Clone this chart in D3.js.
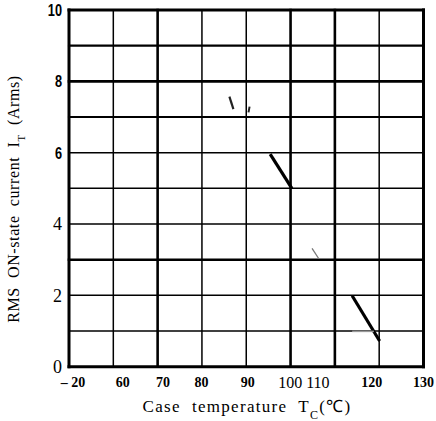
<!DOCTYPE html>
<html><head><meta charset="utf-8">
<script src="https://cdn.jsdelivr.net/npm/d3@7"></script>
<style>body{margin:0;background:#fff} svg{display:block}</style>
</head><body>
<svg id="chart" width="436" height="421"></svg>
<script>
// Case temperature axis: gridline values and the printed labels with their positions (°C)
const xGrid = [50, 60, 70, 80, 90, 100, 110, 120, 130];
const xLabelText = ["\u2013 20", "60", "70", "80", "90", "100 110", "120", "130"];
const xLabelAt = [50.8, 62.0, 71.1, 79.8, 90.2, 102.9, 118.2, 129.9];

// RMS on-state current axis (A)
const yGrid = [0, 1, 2, 3, 4, 5, 6, 7, 8, 9, 10];
const yLabelValues = [0, 2, 4, 6, 8, 10];

// Derating curve fragments, [Tc (°C), IT (Arms)]
const traceA = [[86.2, 7.57], [87.1, 7.22]];
const traceB = [[90.75, 7.29], [90.5, 7.13]];
const traceC = [[95.4, 5.96], [100.3, 5.0]];
const traceD = [[104.85, 3.32], [106.3, 3.04]];
const traceE = [[113.9, 1.99], [120.1, 0.72]];
const traceF = [[113.9, 0.99], [118.8, 0.99]];

const serif = "'Liberation Serif', 'Times New Roman', Times, serif";
const sans = "'Liberation Sans', Arial, sans-serif";

const svg = d3.select("#chart");
const x = d3.scaleLinear().domain([50, 130]).range([69, 423.5]);
const y = d3.scaleLinear().domain([0, 10]).range([366.7, 10]);

// grid weights
const xWidth = v => (v === 50 || v === 130) ? 3 : ([70, 100, 110].includes(v) ? 2.6 : 1.5);
const yWidth = v => (v === 0 || v === 10) ? 3 : ([3, 8].includes(v) ? 2.6 : ([7, 9].includes(v) ? 2.1 : 1.5));

const grid = svg.append("g").attr("stroke", "#000");
grid.selectAll("line.h").data(yGrid).join("line")
  .attr("class", "h")
  .attr("x1", x(50)).attr("x2", x(130))
  .attr("y1", d => y(d)).attr("y2", d => y(d))
  .attr("stroke-width", yWidth)
  .attr("stroke-linecap", "square");
grid.selectAll("line.v").data(xGrid).join("line")
  .attr("class", "v")
  .attr("y1", y(0)).attr("y2", y(10))
  .attr("x1", d => x(d)).attr("x2", d => x(d))
  .attr("stroke-width", xWidth)
  .attr("stroke-linecap", "square");

// curve fragments
const line = d3.line().x(d => x(d[0])).y(d => y(d[1]));
const traces = [
  { pts: traceA, color: "#222", w: 2.2 },
  { pts: traceB, color: "#222", w: 2 },
  { pts: traceC, color: "#000", w: 3.2 },
  { pts: traceD, color: "#777", w: 1.3 },
  { pts: traceE, color: "#000", w: 3.2 },
  { pts: traceF, color: "#999", w: 1.5 }
];
svg.append("g").selectAll("path").data(traces).join("path")
  .attr("d", d => line(d.pts))
  .attr("fill", "none")
  .attr("stroke", d => d.color)
  .attr("stroke-width", d => d.w);

// x axis labels
const xAxis = d3.axisBottom(x).tickValues(xLabelAt)
  .tickFormat((d, i) => xLabelText[i]).tickSize(0).tickPadding(10);
const gx = svg.append("g").attr("transform", `translate(0,${y(0)})`).call(xAxis)
  .attr("font-family", serif).attr("font-size", 14);
gx.select(".domain").remove();
gx.selectAll("text")
  .attr("fill", "#000")
  .attr("font-family", serif)
  .attr("font-size", (d, i) => xLabelText[i] === "100 110" ? 16 : 14)
  .attr("font-weight", (d, i) => xLabelText[i] === "100 110" ? "normal" : "bold")
  .style("white-space", "pre");

// y axis labels: upper ones in a condensed bold sans, lower ones in serif
const yAxis = d3.axisLeft(y).tickValues(yLabelValues).tickSize(0).tickPadding(7);
const gy = svg.append("g").attr("transform", `translate(${x(50)},0)`).call(yAxis)
  .attr("font-family", serif);
gy.select(".domain").remove();
gy.selectAll("text")
  .attr("fill", "#000")
  .attr("font-family", d => d >= 6 ? sans : serif)
  .attr("font-weight", d => d >= 6 ? "bold" : "normal")
  .attr("font-size", d => d >= 6 ? 17 : 18)
  .attr("transform", d => d >= 6 ? "scale(0.75,1)" : null)
  .attr("x", d => d >= 6 ? -7 / 0.75 : -7);

// axis titles
const xt = svg.append("text")
  .attr("x", 247).attr("y", 412)
  .attr("text-anchor", "middle")
  .attr("font-family", serif).attr("font-size", 17)
  .style("letter-spacing", "1.3px").style("white-space", "pre");
xt.append("tspan").text("Case  temperature  T");
xt.append("tspan").attr("baseline-shift", "sub").attr("font-size", 12).text("C");
xt.append("tspan").text("(\u2103)");

const yt = svg.append("text")
  .attr("transform", "translate(19,199) rotate(-90)")
  .attr("text-anchor", "middle")
  .attr("font-family", serif).attr("font-size", 16)
  .style("letter-spacing", "0.6px").style("white-space", "pre");
yt.append("tspan").text("RMS  ON-state  current  I");
yt.append("tspan").attr("baseline-shift", "sub").attr("font-size", 11).text("T");
yt.append("tspan").text("  (Arms)");
</script>
</body></html>
